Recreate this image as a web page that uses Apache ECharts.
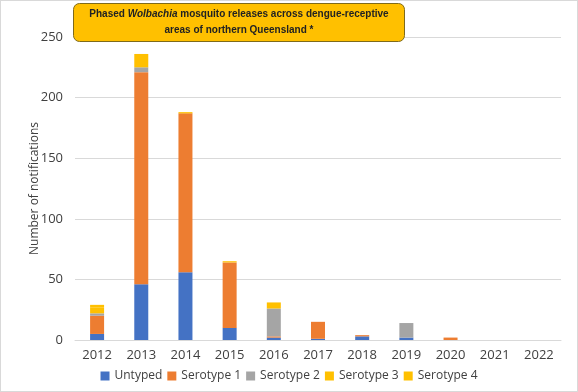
<!DOCTYPE html>
<html>
<head>
<meta charset="utf-8">
<script src="https://cdn.jsdelivr.net/npm/echarts@6/dist/echarts.min.js"></script>
<style>
  html, body { margin: 0; padding: 0; background: #fff; }
  #chart { width: 578px; height: 392px; box-sizing: border-box; border: 1px solid #d9d9d9; }
</style>
</head>
<body>
<div id="chart"></div>
<script>
// values
var years = ['2012', '2013', '2014', '2015', '2016', '2017', '2018', '2019', '2020', '2021', '2022'];
var untyped = [5, 46, 56, 10, 2, 1, 3, 2, 0, 0, 0];
var serotype1 = [15, 175, 131, 54, 1, 14, 1, 0, 2, 0, 0];
var serotype2 = [2, 4, 0, 0, 23, 0, 0, 12, 0, 0, 0];
var serotype3 = [5, 0, 0, 0, 5, 0, 0, 0, 0, 0, 0];
var serotype4 = [2, 11, 1, 1, 0, 0, 0, 0, 0, 0, 0];

var myChart = echarts.init(document.getElementById('chart'));

function bar(name, data, color) {
    return {
        name: name,
        type: 'bar',
        stack: 'total',
        barWidth: 14,
        data: data,
        itemStyle: { color: color }
    };
}

option = {
    textStyle: { fontFamily: 'Open Sans' },
    title: {
        text: '{b|Phased }{i|Wolbachia}{b| mosquito releases across dengue-receptive}\n{b|areas of northern Queensland *}',
        left: 222,
        textAlign: 'center',
        top: 2,
        padding: [3, 16, 4, 16],
        backgroundColor: '#FFC000',
        borderColor: '#7f6a1a',
        borderWidth: 1,
        borderRadius: 6,
        textStyle: {
            lineHeight: 16,
            rich: {
                b: { fontFamily: 'Liberation Sans', fontWeight: 'bold', fontSize: 10, color: '#222', lineHeight: 16 },
                i: { fontFamily: 'Liberation Sans', fontWeight: 'bold', fontStyle: 'italic', fontSize: 10, color: '#222', lineHeight: 16 }
            }
        }
    },
    legend: {
        bottom: 4,
        left: 'center',
        itemWidth: 9,
        itemHeight: 9,
        itemGap: 5,
        icon: 'rect',
        textStyle: { fontSize: 12, color: '#404040', fontFamily: 'Open Sans' },
        data: ['Untyped', 'Serotype 1', 'Serotype 2', 'Serotype 3', 'Serotype 4']
    },
    grid: {
        left: 74,
        right: 16,
        top: 36,
        bottom: 51
    },
    xAxis: {
        type: 'category',
        data: years,
        axisTick: { show: false },
        axisLine: { lineStyle: { color: '#d9d9d9' } },
        axisLabel: { color: '#404040', fontSize: 13, margin: 9 }
    },
    yAxis: {
        type: 'value',
        min: 0,
        max: 250,
        interval: 50,
        name: 'Number of notifications',
        nameLocation: 'middle',
        nameGap: 34,
        nameMoveOverlap: false,
        nameTextStyle: { color: '#404040', fontSize: 12 },
        axisLine: { show: false },
        axisTick: { show: false },
        axisLabel: { color: '#404040', fontSize: 13, margin: 12 },
        splitLine: { lineStyle: { color: '#d9d9d9' } }
    },
    series: [
        bar('Untyped', untyped, '#4472C4'),
        bar('Serotype 1', serotype1, '#ED7D31'),
        bar('Serotype 2', serotype2, '#A5A5A5'),
        bar('Serotype 3', serotype3, '#FFC000'),
        bar('Serotype 4', serotype4, '#FFC000')
    ]
};
myChart.setOption(option);
</script>
</body>
</html>
